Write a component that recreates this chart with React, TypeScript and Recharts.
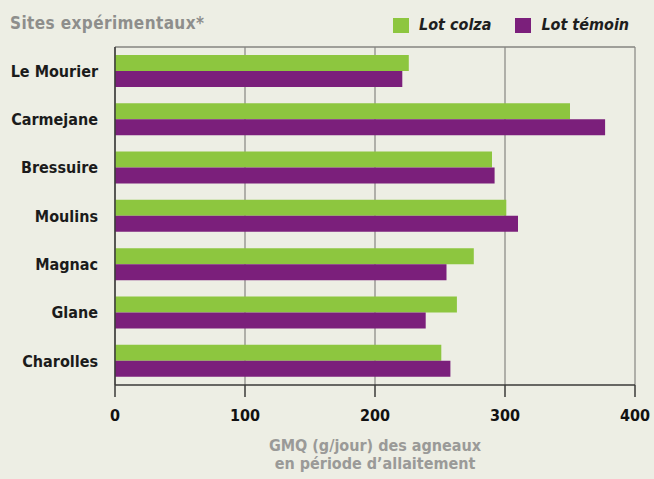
import React from 'react';
import { BarChart, Bar, XAxis, YAxis, CartesianGrid, Label } from 'recharts';

const sites = ['Le Mourier', 'Carmejane', 'Bressuire', 'Moulins', 'Magnac', 'Glane', 'Charolles'];
const lotColza = [226, 350, 290, 301, 276, 263, 251];
const lotTemoin = [221, 377, 292, 310, 255, 239, 258];
const xTicks = [0, 100, 200, 300, 400];
const seriesNames = ['Lot colza', 'Lot témoin'];
const seriesColors = ['#8dc63f', '#7b1f7b'];
const chartTitle = 'Sites expérimentaux*';
const axisTitle = ['GMQ (g/jour) des agneaux', 'en période d\u2019allaitement'];

const data = sites.map((s, i) => ({ site: s, colza: lotColza[i], temoin: lotTemoin[i] }));

const FONT = "'DejaVu Sans Condensed', 'DejaVu Sans', sans-serif";
const BG = '#edeee4';
const MARGIN = { top: 47, right: 19, bottom: 0, left: 0 };

const AxisTitle = (props: any) => {
  const vb = props.viewBox || {};
  const cx = vb.x + vb.width / 2;
  return (
    <text
      x={cx}
      y={vb.y + 66}
      textAnchor="middle"
      fill="#9a9a98"
      fontSize={16}
      fontWeight="bold"
      fontFamily={FONT}
      style={{ fontStretch: 'condensed' }}
    >
      {axisTitle.map((t, i) => (
        <tspan key={i} x={cx} dy={i === 0 ? 0 : 18}>
          {t}
        </tspan>
      ))}
    </text>
  );
};

const topEdge = (p: any) => [p && p.offset && typeof p.offset.top === 'number' ? p.offset.top : MARGIN.top];

export default function App() {
  return (
    <div
      style={{
        position: 'absolute',
        left: 0,
        top: 0,
        width: 654,
        height: 479,
        background: BG,
        overflow: 'hidden',
        fontFamily: FONT,
        fontStretch: 'condensed',
      }}
    >
      <div
        style={{
          position: 'absolute',
          left: 10,
          top: 13,
          fontSize: 17,
          fontWeight: 'bold',
          color: '#8e8e8c',
          letterSpacing: 0.4,
          lineHeight: '20px',
          whiteSpace: 'nowrap',
        }}
      >
        {chartTitle}
      </div>
      <div
        style={{
          position: 'absolute',
          left: 393,
          top: 15,
          display: 'flex',
          alignItems: 'center',
          whiteSpace: 'nowrap',
        }}
      >
        {seriesNames.map((n, i) => (
          <div key={n} style={{ display: 'flex', alignItems: 'center', marginRight: i === 0 ? 24 : 0 }}>
            <div style={{ width: 16, height: 15, background: seriesColors[i], marginRight: 10 }} />
            <span
              style={{
                fontSize: 16,
                fontWeight: 'bold',
                fontStyle: 'italic',
                color: '#1e1e1e',
                lineHeight: '20px',
              }}
            >
              {n}
            </span>
          </div>
        ))}
      </div>
      <div style={{ position: 'absolute', left: 0, top: 0 }}>
        <BarChart
          width={654}
          height={479}
          data={data}
          layout="vertical"
          margin={MARGIN}
          barGap={0}
          barSize={16}
        >
          <CartesianGrid horizontal={false} vertical stroke="#858581" strokeWidth={1.2} />
          <CartesianGrid
            horizontal
            vertical={false}
            horizontalCoordinatesGenerator={topEdge}
            stroke="#858581"
            strokeWidth={1.5}
          />
          <XAxis
            type="number"
            domain={[0, 400]}
            ticks={xTicks}
            height={94}
            tickSize={12}
            tickMargin={13}
            axisLine={{ stroke: '#3a3a38', strokeWidth: 1.5 }}
            tickLine={{ stroke: '#3a3a38', strokeWidth: 1.5 }}
            tick={{ fill: '#111', fontSize: 16, fontWeight: 'bold', fontFamily: FONT }}
          >
            <Label content={AxisTitle} position="bottom" />
          </XAxis>
          <YAxis
            type="category"
            dataKey="site"
            width={115}
            tickLine={false}
            tickSize={6}
            tickMargin={11}
            axisLine={{ stroke: '#3a3a38', strokeWidth: 1.5 }}
            tick={{ fill: '#1b1b1b', fontSize: 16, fontWeight: 'bold', fontFamily: FONT }}
          />
          <Bar dataKey="colza" name={seriesNames[0]} fill={seriesColors[0]} isAnimationActive={false} />
          <Bar dataKey="temoin" name={seriesNames[1]} fill={seriesColors[1]} isAnimationActive={false} />
        </BarChart>
      </div>
    </div>
  );
}
